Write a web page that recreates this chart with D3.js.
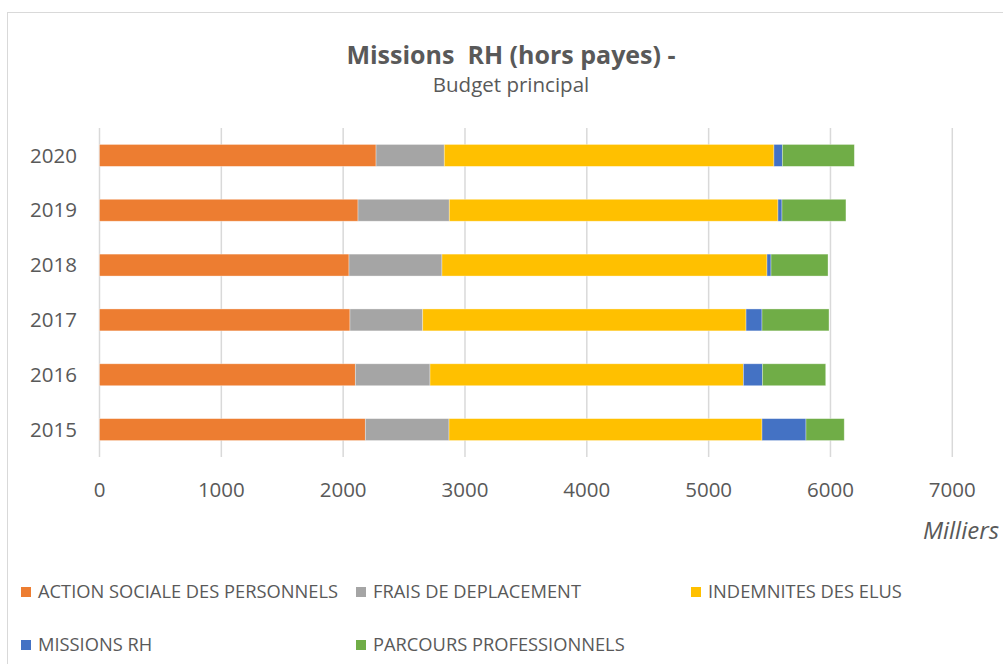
<!DOCTYPE html>
<html>
<head>
<meta charset="utf-8">
<script src="https://cdn.jsdelivr.net/npm/d3@7"></script>
<style>
  body { margin: 0; background: #fff; }
  text { font-family: "Open Sans", sans-serif; fill: #595959; }
</style>
</head>
<body>
<svg id="chart" width="1003" height="664"></svg>
<script>
// years, top to bottom
const years = ["2020", "2019", "2018", "2017", "2016", "2015"];
const seriesNames = ["ACTION SOCIALE DES PERSONNELS", "FRAIS DE DEPLACEMENT", "INDEMNITES DES ELUS", "MISSIONS RH", "PARCOURS PROFESSIONNELS"];
const seriesColors = ["#ED7D31", "#A5A5A5", "#FFC000", "#4472C4", "#70AD47"];
const actionSociale = [2270, 2122, 2048, 2056, 2100, 2182];
const fraisDeplacement = [560, 749, 763, 597, 613, 687];
const indemnitesElus = [2706, 2698, 2668, 2654, 2572, 2569];
const missionsRH = [69, 33, 33, 131, 156, 361];
const parcoursPro = [591, 525, 468, 550, 520, 314];
const xTicks = [0, 1000, 2000, 3000, 4000, 5000, 6000, 7000];

const svg = d3.select("#chart");

// chart frame
svg.append("rect")
	.attr("x", 7.5).attr("y", 12.5)
	.attr("width", 1010).attr("height", 670)
	.attr("fill", "none").attr("stroke", "#d9d9d9").attr("stroke-width", 1);

let rows = years.map((y, i) => ({
	year: y,
	values: [actionSociale[i], fraisDeplacement[i], indemnitesElus[i], missionsRH[i], parcoursPro[i]]
}));

let x = d3.scaleLinear().domain([0, 7000]).range([99.5, 952.3]);
let y = d3.scaleBand().domain(years).range([128, 457]).paddingInner(0.6).paddingOuter(0.3);

// gridlines
let g_grid = svg.append("g");
g_grid.selectAll("line")
	.data(xTicks)
	.join("line")
	.attr("x1", d => x(d)).attr("x2", d => x(d))
	.attr("y1", 128).attr("y2", 457)
	.attr("stroke", "#d9d9d9").attr("stroke-width", 1.5);

// stacked bars
let stackData = rows.map(r => {
	let acc = 0;
	return r.values.map((v, k) => {
		let seg = {year: r.year, k: k, x0: acc, x1: acc + v};
		acc += v;
		return seg;
	});
}).flat();

svg.append("g")
	.selectAll("rect")
	.data(stackData)
	.join("rect")
	.attr("x", d => x(d.x0))
	.attr("width", d => x(d.x1) - x(d.x0))
	.attr("y", d => y(d.year))
	.attr("height", y.bandwidth())
	.attr("fill", d => seriesColors[d.k])
	.attr("stroke", "#ffffff").attr("stroke-opacity", 0.45).attr("stroke-width", 0.75);

// y labels
svg.append("g")
	.selectAll("text")
	.data(years)
	.join("text")
	.attr("x", 77)
	.attr("y", d => y(d) + y.bandwidth() / 2)
	.attr("dy", "0.35em")
	.attr("text-anchor", "end")
	.attr("font-size", 20.5)
	.text(d => d);

// x tick labels
svg.append("g")
	.selectAll("text")
	.data(xTicks)
	.join("text")
	.attr("x", d => x(d))
	.attr("y", 497)
	.attr("text-anchor", "middle")
	.attr("font-size", 20.5)
	.text(d => d);

svg.append("text")
	.attr("x", 999).attr("y", 539)
	.attr("text-anchor", "end")
	.attr("font-size", 24)
	.attr("font-style", "italic")
	.text("Milliers");

// titles
svg.append("text")
	.attr("x", 511).attr("y", 64)
	.attr("text-anchor", "middle")
	.attr("font-size", 25)
	.attr("font-weight", "bold")
	.attr("xml:space", "preserve")
	.style("white-space", "pre")
	.text("Missions  RH (hors payes) -");

svg.append("text")
	.attr("x", 511).attr("y", 92)
	.attr("text-anchor", "middle")
	.attr("font-size", 20.5)
	.text("Budget principal");

// legend
let legendPos = [[21, 592], [356, 592], [691, 592], [21, 645], [356, 645]];
let lg = svg.append("g")
	.selectAll("g")
	.data(seriesNames)
	.join("g")
	.attr("transform", (d, i) => `translate(${legendPos[i][0]},${legendPos[i][1]})`);
lg.append("rect")
	.attr("x", 0).attr("y", -5)
	.attr("width", 10).attr("height", 10)
	.attr("fill", (d, i) => seriesColors[i]);
lg.append("text")
	.attr("x", 17).attr("y", 0)
	.attr("dy", "0.35em")
	.attr("font-size", 18.3)
	.text(d => d);
</script>
</body>
</html>
